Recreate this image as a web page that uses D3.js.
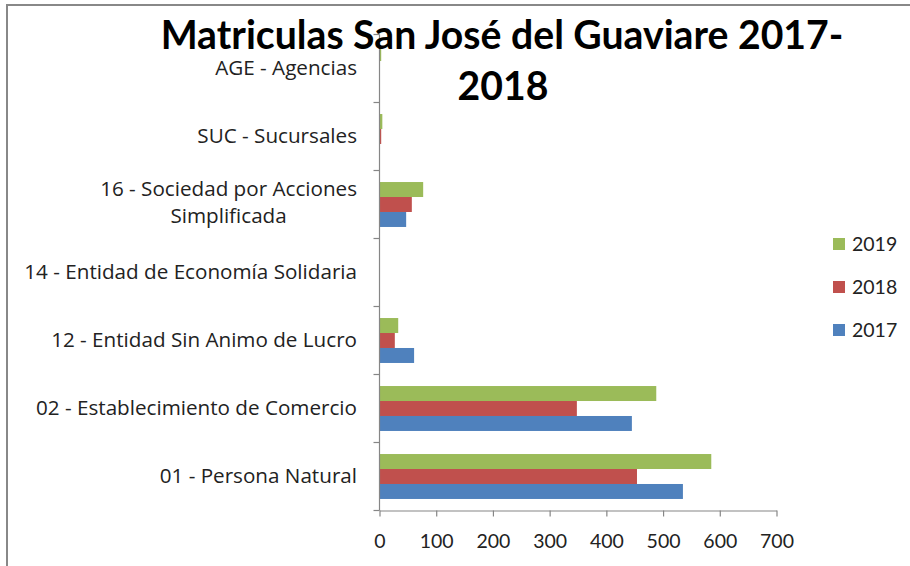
<!DOCTYPE html>
<html><head><meta charset="utf-8">
<script src="https://cdn.jsdelivr.net/npm/d3@7"></script>
<style>body{margin:0;background:#fff}svg{display:block}</style>
</head><body>
<svg id="c" width="910" height="566"></svg>
<script>
const categories = ["AGE - Agencias","SUC - Sucursales","16 - Sociedad por Acciones Simplificada","14 - Entidad de Economía Solidaria","12 - Entidad Sin Animo de Lucro","02 - Establecimiento de Comercio","01 - Persona Natural"];
const seriesNames = ["2019","2018","2017"];
const values2019 = [3,5,77,0,33,488,585];
const values2018 = [0,3,57,0,27,348,454];
const values2017 = [0,0,47,0,61,445,535];
const xTicks = [0,100,200,300,400,500,600,700];
const titleLines = ["Matriculas San José del Guaviare 2017-","2018"];
const colors = {"2019":"#9BBB59","2018":"#C0504D","2017":"#4F81BD"};
const seriesData = {"2019":values2019,"2018":values2018,"2017":values2017};

const svg = d3.select("#c");
const FONT = "Lato, 'Open Sans', sans-serif";
const LFONT = "'Open Sans', Lato, sans-serif";
// outer border
svg.append("rect").attr("x",7).attr("y",5).attr("width",960).attr("height",620)
  .attr("fill","#fff").attr("stroke","#888").attr("stroke-width",2);

const x = d3.scaleLinear().domain([0,700]).range([379.5,776.5]);
const y0 = d3.scaleBand().domain(categories).range([34.5,510.5]).padding(0);
const y1 = d3.scaleBand().domain(seriesNames).range([0,y0.bandwidth()]).paddingInner(0).paddingOuter(0.77);

const g = svg.append("g");
categories.forEach((c,i)=>{
  seriesNames.forEach(s=>{
    const v = seriesData[s][i];
    if(v<=0) return;
    g.append("rect").attr("x",x(0)).attr("y",y0(c)+y1(s))
      .attr("width",x(v)-x(0)).attr("height",y1.bandwidth())
      .attr("fill",colors[s]);
  });
});

// y axis
const yAxis = svg.append("g");
yAxis.append("line").attr("x1",x(0)).attr("x2",x(0)).attr("y1",y0.range()[0]).attr("y2",y0.range()[1]).attr("stroke","#868686").attr("stroke-width",1.2);
const bounds = categories.map(c=>y0(c)).concat([y0.range()[1]]);
bounds.forEach(b=>{
  yAxis.append("line").attr("x1",x(0)-6).attr("x2",x(0)).attr("y1",b).attr("y2",b).attr("stroke","#868686").attr("stroke-width",1.2);
});
// x axis
const xAxisG = svg.append("g").attr("transform",`translate(0,${y0.range()[1]})`)
  .call(d3.axisBottom(x).tickValues(xTicks).tickSize(6).tickSizeOuter(0).tickPadding(18));
xAxisG.select(".domain").attr("stroke","#868686").attr("stroke-width",1.2);
xAxisG.selectAll(".tick line").attr("stroke","#868686").attr("stroke-width",1.2);
xAxisG.selectAll(".tick text").attr("font-family",FONT).attr("font-size",19.5).attr("fill","#222");

// category labels: fit size so the longest label matches the reference width
const probe = svg.append("text").attr("font-family",LFONT).attr("font-size",18).text("14 - Entidad de Economía Solidaria");
const labelSize = 18*333/probe.node().getComputedTextLength();
probe.remove();
const labelRight = 357;
categories.forEach(c=>{
  const cy = y0(c)+y0.bandwidth()/2;
  if(c.startsWith("16 - ")){
    const l1 = svg.append("text").attr("font-family",LFONT).attr("font-size",labelSize).attr("fill","#222")
      .attr("text-anchor","end").attr("x",labelRight).attr("y",cy-15+6).text("16 - Sociedad por Acciones");
    const w1 = l1.node().getComputedTextLength();
    svg.append("text").attr("font-family",LFONT).attr("font-size",labelSize).attr("fill","#222")
      .attr("text-anchor","middle").attr("x",labelRight-w1/2).attr("y",cy+12+6).text("Simplificada");
  } else {
    svg.append("text").attr("font-family",LFONT).attr("font-size",labelSize).attr("fill","#222")
      .attr("text-anchor","end").attr("x",labelRight).attr("y",cy+6).text(c);
  }
});

// legend
seriesNames.forEach((s,i)=>{
  const ly = 244 + i*43;
  svg.append("rect").attr("x",833).attr("y",ly-6).attr("width",12).attr("height",12).attr("fill",colors[s]);
  svg.append("text").attr("x",852).attr("y",ly+7).attr("font-family",FONT).attr("font-size",19.5).attr("fill","#222").text(s);
});

// title
const t1 = svg.append("text").attr("x",502).attr("y",49).attr("text-anchor","middle").attr("font-family",FONT).attr("font-weight","bold").attr("font-size",36).attr("fill","#000").text(titleLines[0]);
const w = t1.node().getComputedTextLength();
const fs = 36*683/w;
t1.attr("font-size",fs);
svg.append("text").attr("x",503).attr("y",100).attr("text-anchor","middle").attr("font-family",FONT).attr("font-weight","bold").attr("font-size",fs).attr("fill","#000").text(titleLines[1]);
</script>
</body></html>
